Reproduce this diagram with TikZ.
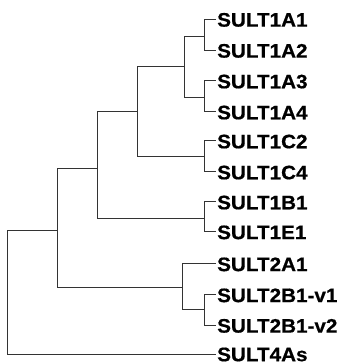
\documentclass[tikz,border=0pt]{standalone}
\usepackage{fontspec}
\setmainfont{Liberation Sans}[FakeStretch=1.06]
\newfontfamily\lblfont{Liberation Sans Bold}[FakeStretch=1.06,FakeBold=0.6]
\begin{document}
\begin{tikzpicture}[x=1pt,y=-1pt,
  br/.style={draw=black!80,line width=0.9pt},
  lbl/.style={anchor=base west,inner sep=0pt,font=\fontsize{19.5}{22}\selectfont\lblfont}]
\useasboundingbox (0,0) rectangle (347,364);
% leaf tips
\coordinate (t1) at (215.5,19);
\coordinate (t2) at (215.5,50);
\coordinate (t3) at (215.5,80.7);
\coordinate (t4) at (215.5,111.7);
\coordinate (t5) at (215.5,140.7);
\coordinate (t6) at (215.5,171.7);
\coordinate (t7) at (215.5,201.7);
\coordinate (t8) at (215.5,231.5);
\coordinate (t9) at (215.5,263.5);
\coordinate (t10) at (215.5,294.5);
\coordinate (t11) at (215.5,325);
\coordinate (t12) at (215.5,354.5);
% labels
\node[lbl] (l1) at (217,26.6) {SULT1A1};
\node[lbl] (l2) at (217,57.6) {SULT1A2};
\node[lbl] (l3) at (217,88.3) {SULT1A3};
\node[lbl] (l4) at (217,119.3) {SULT1A4};
\node[lbl] (l5) at (217,148.3) {SULT1C2};
\node[lbl] (l6) at (217,179.3) {SULT1C4};
\node[lbl] (l7) at (217,209.3) {SULT1B1};
\node[lbl] (l8) at (217,239.1) {SULT1E1};
\node[lbl] (l9) at (217,271.1) {SULT2A1};
\node[lbl] (l10) at (217,302.1) {SULT2B1-v1};
\node[lbl] (l11) at (217,332.6) {SULT2B1-v2};
\node[lbl] (l12) at (217,361.2) {SULT4As};
% internal nodes
\coordinate (a1) at (204.3,36.7);
\coordinate (a2) at (204.3,97.3);
\coordinate (A) at (184.3,66.7);
\coordinate (C) at (204.3,156.7);
\coordinate (AC) at (137.7,111.7);
\coordinate (BE) at (204.3,218.3);
\coordinate (ACBE) at (97.3,168.3);
\coordinate (B2) at (204.3,309);
\coordinate (T2) at (182.5,287);
\coordinate (S) at (57.3,230);
\coordinate (R) at (7.3,230);
% branches
\draw[br] (t1) -| (a1) |- (t2);
\draw[br] (t3) -| (a2) |- (t4);
\draw[br] (t5) -| (C) |- (t6);
\draw[br] (t7) -| (BE) |- (t8);
\draw[br] (t10) -| (B2) |- (t11);
\draw[br] (a1) -| (A) |- (a2);
\draw[br] (A) -| (AC) |- (C);
\draw[br] (AC) -| (ACBE) |- (BE);
\draw[br] (t9) -| (T2) |- (B2);
\draw[br] (ACBE) -| (S) |- (T2);
\draw[br] (S) -- (R) |- (t12);
\end{tikzpicture}
\end{document}
